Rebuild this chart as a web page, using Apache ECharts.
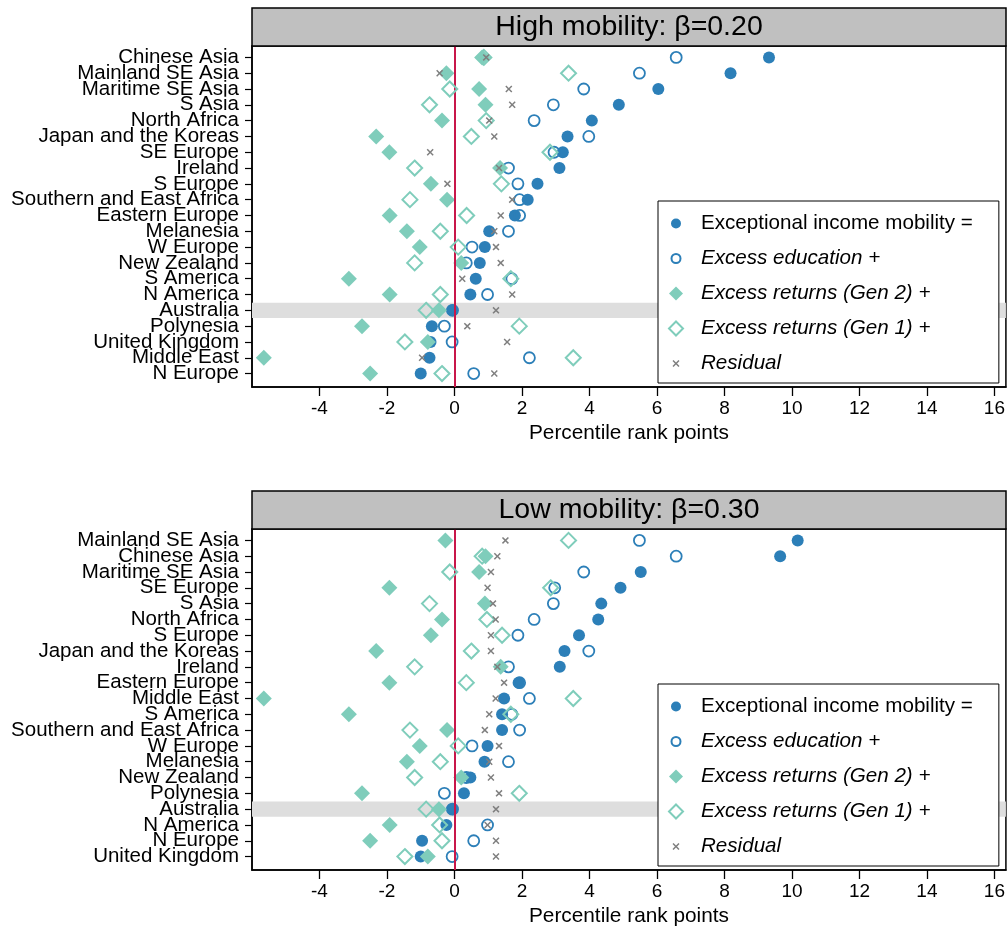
<!DOCTYPE html>
<html><head><meta charset="utf-8">
<script src="https://cdn.jsdelivr.net/npm/echarts@6/dist/echarts.min.js"></script>
<style>html,body{margin:0;padding:0;background:#fff}#c{width:1008px;height:929px}</style>
</head><body><div id="c"></div><script>
// ---------- DATA ----------
const names = ['Exceptional income mobility =', 'Excess education +', 'Excess returns (Gen 2) +', 'Excess returns (Gen 1) +', 'Residual'];

const catsHigh = ['Chinese Asia','Mainland SE Asia','Maritime SE Asia','S Asia','North Africa','Japan and the Koreas','SE Europe','Ireland','S Europe','Southern and East Africa','Eastern Europe','Melanesia','W Europe','New Zealand','S America','N America','Australia','Polynesia','United Kingdom','Middle East','N Europe'];
const highMobility  = [9.32, 8.18, 6.04, 4.87, 4.07, 3.35, 3.21, 3.11, 2.46, 2.17, 1.79, 1.03, 0.90, 0.75, 0.63, 0.47, -0.06, -0.67, -0.71, -0.74, -1.00];
const highEducation = [6.57, 5.48, 3.83, 2.93, 2.36, 3.98, 2.95, 1.60, 1.88, 1.93, 1.93, 1.60, 0.52, 0.35, 1.70, 0.98, -0.06, -0.30, -0.07, 2.22, 0.57];
const highGen2      = [0.82, -0.24, 0.73, 0.92, -0.37, -2.32, -1.93, 1.35, -0.70, -0.22, -1.92, -1.41, -1.03, 0.20, -3.13, -1.92, -0.46, -2.74, -0.79, -5.65, -2.50];
const highGen1      = [0.87, 3.38, -0.14, -0.74, 0.94, 0.50, 2.83, -1.18, 1.39, -1.32, 0.36, -0.42, 0.11, -1.18, 1.67, -0.42, -0.84, 1.92, -1.47, 3.52, -0.37];
const highResidual  = [0.94, -0.44, 1.61, 1.71, 1.03, 1.18, -0.72, 1.32, -0.21, 1.71, 1.37, 1.18, 1.23, 1.37, 0.23, 1.71, 1.23, 0.38, 1.56, -0.96, 1.18];

const catsLow = ['Mainland SE Asia','Chinese Asia','Maritime SE Asia','SE Europe','S Asia','North Africa','S Europe','Japan and the Koreas','Ireland','Eastern Europe','Middle East','S America','Southern and East Africa','W Europe','Melanesia','New Zealand','Polynesia','Australia','N America','N Europe','United Kingdom'];
const lowMobility  = [10.17, 9.65, 5.52, 4.92, 4.35, 4.26, 3.69, 3.26, 3.12, 1.90, 1.47, 1.41, 1.41, 0.98, 0.89, 0.47, 0.28, -0.06, -0.24, -0.96, -1.00];
const lowEducation = [5.48, 6.57, 3.83, 2.97, 2.93, 2.36, 1.88, 3.98, 1.60, 1.93, 2.22, 1.70, 1.93, 0.52, 1.60, 0.35, -0.30, -0.06, 0.98, 0.57, -0.07];
const lowGen2      = [-0.27, 0.92, 0.73, -1.93, 0.90, -0.37, -0.70, -2.32, 1.37, -1.93, -5.65, -3.13, -0.22, -1.03, -1.41, 0.20, -2.74, -0.46, -1.92, -2.50, -0.79];
const lowGen1      = [3.38, 0.82, -0.14, 2.85, -0.74, 0.96, 1.41, 0.50, -1.18, 0.35, 3.52, 1.67, -1.32, 0.11, -0.42, -1.18, 1.92, -0.84, -0.44, -0.37, -1.47];
const lowResidual  = [1.51, 1.27, 1.08, 0.98, 1.14, 1.22, 1.08, 1.08, 1.27, 1.47, 1.22, 1.03, 0.90, 1.32, 1.03, 1.08, 1.32, 1.23, 0.98, 1.23, 1.23];

const xTickValues = [-4, -2, 0, 2, 4, 6, 8, 10, 12, 14, 16];
const titleHigh = 'High mobility: β=0.20';
const titleLow = 'Low mobility: β=0.30';
const xAxisTitle = 'Percentile rank points';
const highlightRow = 'Australia';

// ---------- STYLE / LAYOUT ----------
const FONT = '"Liberation Sans", Arial, Helvetica, sans-serif';
const BLUE = '#2c7fb8', TEAL = '#7fcdbb', GREY = '#7f7f7f', RED = '#c8174a';
const X_PATH = 'path://M1.5,0 L5,3.5 L8.5,0 L10,1.5 L6.5,5 L10,8.5 L8.5,10 L5,6.5 L1.5,10 L0,8.5 L3.5,5 L0,1.5 Z';
const CLEAR = 'rgba(255,255,255,0)';
const styles = [
  {symbol: 'circle', symbolSize: 12, itemStyle: {color: BLUE, opacity: 1}},
  {symbol: 'circle', symbolSize: 11, itemStyle: {color: CLEAR, borderColor: BLUE, borderWidth: 1.8, opacity: 1}},
  {symbol: 'diamond', symbolSize: 16, itemStyle: {color: TEAL, opacity: 1}},
  {symbol: 'diamond', symbolSize: 15, itemStyle: {color: CLEAR, borderColor: TEAL, borderWidth: 2, opacity: 1}},
  {symbol: X_PATH, symbolSize: 7, itemStyle: {color: GREY, opacity: 1}}
];
// legend icons padded inside a 14x14 box so they render smaller than the box
const PAD = 'M0,0 L0.001,0 M14,14 L13.999,14 ';
const LEG_CIRCLE = 'path://' + PAD + 'M12,7 A5,5 0 1,1 2,7 A5,5 0 1,1 12,7 Z';
const LEG_CIRCLE_H = 'path://' + PAD + 'M11.5,7 A4.5,4.5 0 1,1 2.5,7 A4.5,4.5 0 1,1 11.5,7 Z';
const LEG_X = 'path://' + PAD + 'M4.55,3.5 L7,5.95 L9.45,3.5 L10.5,4.55 L8.05,7 L10.5,9.45 L9.45,10.5 L7,8.05 L4.55,10.5 L3.5,9.45 L5.95,7 L3.5,4.55 Z';
const legendIcons = [LEG_CIRCLE, LEG_CIRCLE_H, 'diamond', 'diamond', LEG_X];

const GRID_LEFT = 252, GRID_W = 754, GRID_H = 341;
const Y_MIN = 0.28, Y_MAX = 21.85;
const panels = [
  {cats: catsHigh, vals: [highMobility, highEducation, highGen2, highGen1, highResidual], top: 46, title: titleHigh, legendTop: 201},
  {cats: catsLow, vals: [lowMobility, lowEducation, lowGen2, lowGen1, lowResidual], top: 529, title: titleLow, legendTop: 684}
];

const rowIdx = Array.from({length: 21}, (_, i) => i + 1);
const oddRows = rowIdx.filter(i => i % 2 === 1);
const evenRows = rowIdx.filter(i => i % 2 === 0);

const yLabelBase = {color: '#000', fontSize: 20.5, fontFamily: FONT, margin: 13, showMinLabel: true, showMaxLabel: true};

const option = {
  animation: false,
  backgroundColor: '#fff',
  textStyle: {fontFamily: FONT},
  grid: panels.map(p => ({left: GRID_LEFT, top: p.top, width: GRID_W, height: GRID_H, show: true, borderColor: '#000', borderWidth: 1.5, backgroundColor: '#fff'})),
  xAxis: panels.map((p, k) => ({
    type: 'value', gridIndex: k, min: -6, max: 16.34,
    splitLine: {show: false},
    axisLine: {show: true, onZero: false, lineStyle: {color: '#000', width: 1.5}},
    axisTick: {show: true, length: 9, lineStyle: {color: '#000', width: 1.3}, customValues: xTickValues},
    axisLabel: {color: '#000', fontSize: 19, fontFamily: FONT, margin: 12, customValues: xTickValues},
    name: xAxisTitle, nameLocation: 'middle', nameGap: 36,
    nameTextStyle: {color: '#000', fontSize: 20.8, fontFamily: FONT}
  })),
  yAxis: panels.flatMap((p, k) => [
    {
      type: 'value', gridIndex: k, inverse: true, min: Y_MIN, max: Y_MAX, position: 'left',
      splitLine: {show: false},
      axisLine: {show: true, onZero: false, lineStyle: {color: '#000', width: 1.5}},
      axisTick: {show: true, length: 7, lineStyle: {color: '#000', width: 1.2}, customValues: rowIdx},
      axisLabel: Object.assign({customValues: oddRows, formatter: v => p.cats[Math.round(v) - 1] || ''}, yLabelBase)
    },
    {
      type: 'value', gridIndex: k, inverse: true, min: Y_MIN, max: Y_MAX, position: 'left', offset: 0,
      splitLine: {show: false},
      axisLine: {show: false},
      axisTick: {show: false},
      axisLabel: Object.assign({customValues: evenRows, formatter: v => p.cats[Math.round(v) - 1] || ''}, yLabelBase)
    }
  ]),
  legend: panels.map(p => ({
    data: names.map((n, i) => ({name: n, icon: legendIcons[i]})),
    orient: 'vertical', left: 658, top: p.legendTop,
    padding: [12, 26, 9, 10], itemGap: 14, itemWidth: 14, itemHeight: 14,
    backgroundColor: '#fff', borderColor: '#000', borderWidth: 1, borderRadius: 0,
    selectedMode: false,
    formatter: n => (n === names[0] ? '{n|' : '{i|') + n + '}',
    textStyle: {rich: {
      n: {fontSize: 20.6, fontFamily: FONT, color: '#000', lineHeight: 24, padding: [0, 0, 0, 13]},
      i: {fontSize: 20.6, fontFamily: FONT, color: '#000', lineHeight: 24, fontStyle: 'italic', padding: [0, 0, 0, 13]}
    }}
  })),
  graphic: panels.flatMap(p => [
    {type: 'rect', x: GRID_LEFT, y: p.top - 38, shape: {width: GRID_W, height: 38},
     style: {fill: '#c0c0c0', stroke: '#000', lineWidth: 1.5}, z: 10},
    {type: 'text', x: GRID_LEFT + GRID_W / 2, y: p.top - 19, z: 11,
     style: {text: p.title, fontSize: 28.5, fontFamily: FONT, fill: '#000', align: 'center', verticalAlign: 'middle'}}
  ]),
  series: []
};

panels.forEach((p, k) => {
  const hi = p.cats.indexOf(highlightRow) + 1;
  const yi = 2 * k;
  option.series.push({
    type: 'scatter', xAxisIndex: k, yAxisIndex: yi, data: [], z: 1, silent: true,
    markArea: {silent: true, itemStyle: {color: '#dedede'}, data: [[{yAxis: hi - 0.48}, {yAxis: hi + 0.48}]]},
    markLine: {silent: true, symbol: 'none', label: {show: false}, lineStyle: {color: RED, width: 2, type: 'solid'}, data: [{xAxis: 0}]}
  });
  p.vals.forEach((arr, s) => {
    option.series.push(Object.assign({
      type: 'scatter', name: names[s], xAxisIndex: k, yAxisIndex: yi, z: 2 + s,
      data: arr.map((v, i) => [v, i + 1])
    }, styles[s]));
  });
});

const chart = echarts.init(document.getElementById('c'), null, {renderer: 'canvas'});
chart.setOption(option);
</script></body></html>
